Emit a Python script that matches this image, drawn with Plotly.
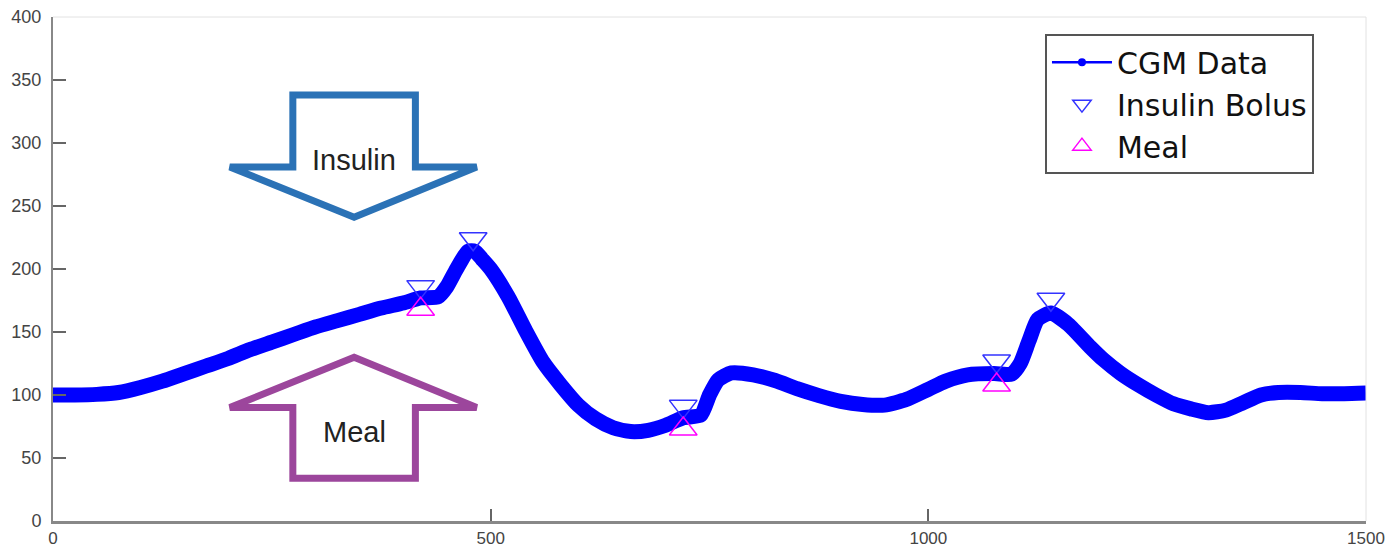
import plotly.graph_objects as go

# CGM trace (time, glucose)
cgm_time = [0, 25, 50, 75, 100, 125, 150, 175, 200, 225, 250, 275, 300, 325, 350, 375, 400,
            420, 440, 450, 461, 474, 482, 490, 500, 520, 540, 560, 580, 600, 620, 640, 660, 680,
            700, 720, 740, 750, 760, 775, 800, 825, 850, 875, 900, 925, 950, 975, 1000, 1020,
            1045, 1075, 1095, 1105, 1115, 1125, 1140, 1160, 1185, 1200, 1220, 1240, 1260, 1280,
            1300, 1320, 1340, 1360, 1380, 1400, 1425, 1450, 1475, 1500]
cgm_value = [100, 100, 100.5, 102, 106, 111, 117, 123, 129, 136, 142, 148, 154, 159, 164, 169, 173,
             177, 178, 186, 200, 214, 214, 208, 200, 178, 151, 126, 108, 92, 81, 74, 71, 72,
             76, 82, 84, 100, 112, 117.5, 116, 111.5, 105, 99.5, 95, 92.5, 92, 96.5, 104.5, 111,
             116, 117, 116.5, 125, 143, 160, 165, 156, 138, 128, 117, 108, 100, 93,
             89, 86, 88, 94, 100, 102, 102, 101, 101, 101.5]

insulin_time = [420, 480, 720, 1078, 1140]
insulin_value = [186, 224, 91, 127, 176]

meal_time = [420, 720, 1078]
meal_value = [168, 73, 108]

FONT = "Liberation Sans, Arial, sans-serif"

fig = go.Figure()

fig.add_trace(go.Scatter(
    x=cgm_time, y=cgm_value, mode="lines",
    line=dict(color="#0000ff", width=15, shape="spline", smoothing=0.6),
    showlegend=False, hoverinfo="x+y"))

# legend stand-in for CGM data (thin line with a dot)
fig.add_trace(go.Scatter(
    x=[None], y=[None], mode="lines+markers", name="CGM Data",
    line=dict(color="#0000ff", width=2.5),
    marker=dict(symbol="circle", size=8, color="#0000ff")))

fig.add_trace(go.Scatter(
    x=insulin_time, y=insulin_value, mode="markers", name="Insulin Bolus",
    marker=dict(symbol="triangle-down-open", size=24, color="#3333ff",
                line=dict(width=1.5, color="#3333ff"))))

fig.add_trace(go.Scatter(
    x=meal_time, y=meal_value, mode="markers", name="Meal",
    marker=dict(symbol="triangle-up-open", size=24, color="#ff00ff",
                line=dict(width=1.5, color="#ff00ff"))))

# annotation arrows
fig.add_shape(type="path", xref="x", yref="y",
              path="M274,338 L414,338 L414,281 L484,281 L344,241 L202,281 L274,281 Z",
              line=dict(color="#2b72b6", width=7), fillcolor="rgba(0,0,0,0)")
fig.add_shape(type="path", xref="x", yref="y",
              path="M344,130 L484,90 L414,90 L414,34 L274,34 L274,90 L202,90 Z",
              line=dict(color="#9c469c", width=7), fillcolor="rgba(0,0,0,0)")
fig.add_annotation(x=344, y=286.5, text="Insulin", showarrow=False,
                   font=dict(family=FONT, size=29, color="#222222"))
fig.add_annotation(x=344, y=70.6, text="Meal", showarrow=False,
                   font=dict(family=FONT, size=29, color="#222222"))

# light top/right border
fig.add_shape(type="line", xref="paper", yref="paper", x0=0, x1=1, y0=1, y1=1,
              line=dict(color="#e2e2e2", width=1))
fig.add_shape(type="line", xref="paper", yref="paper", x0=1, x1=1, y0=0, y1=1,
              line=dict(color="#e2e2e2", width=1))

fig.update_layout(
    width=1386, height=548,
    margin=dict(l=53, r=20, t=17, b=27, autoexpand=False),
    plot_bgcolor="white", paper_bgcolor="white",
    font=dict(family=FONT),
    legend=dict(x=0.7555, y=0.966, xanchor="left", yanchor="top",
                bgcolor="white", bordercolor="#555555", borderwidth=2,
                font=dict(family="DejaVu Sans, sans-serif", size=30, color="#111111"),
                itemwidth=60, tracegroupgap=0),
    xaxis=dict(range=[0, 1500], tickvals=[0, 500, 1000, 1500], ticks="inside", ticklen=12,
               tickcolor="#666666", tickwidth=1.5, showline=True, linecolor="#888888",
               linewidth=3, showgrid=False, zeroline=False, automargin=False,
               tickfont=dict(family=FONT, size=17, color="#444444")),
    yaxis=dict(range=[0, 400], dtick=50, ticks="inside", ticklen=13,
               tickcolor="#666666", tickwidth=2, showline=True, linecolor="#888888",
               linewidth=2, showgrid=False, zeroline=False, automargin=False,
               ticklabelstandoff=6,
               tickfont=dict(family=FONT, size=18, color="#444444")),
)

fig.write_html("out.html", config={"displayModeBar": False},
               post_script="document.body.style.margin='0';document.body.style.overflow='hidden';")
